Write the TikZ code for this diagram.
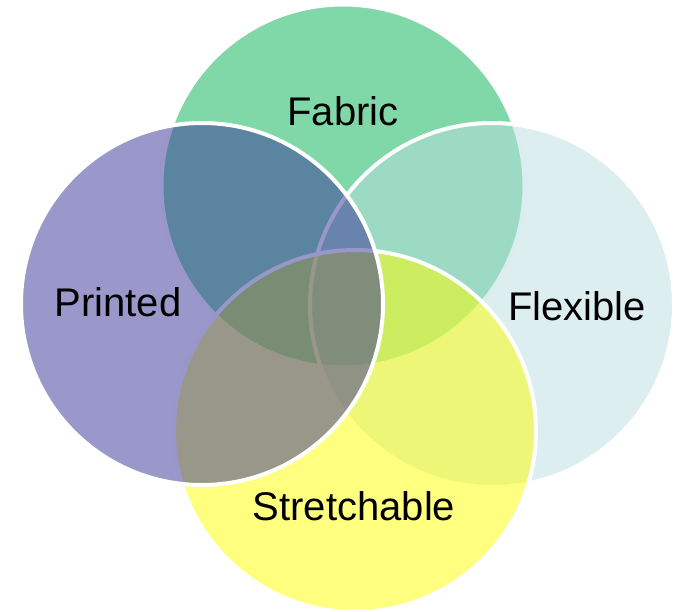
\documentclass[tikz,border=0pt]{standalone}
\usepackage{fontspec}
\setmainfont{Liberation Sans}
\definecolor{fabricC}{RGB}{2,178,82}
\definecolor{flexC}{RGB}{185,221,225}
\definecolor{stretchC}{RGB}{255,255,0}
\definecolor{printC}{RGB}{53,48,150}
\begin{document}
\begin{tikzpicture}[x=1pt,y=-1pt,
  setdisc/.style={fill=#1, fill opacity=0.5, draw=white, draw opacity=1, line width=4pt},
  setlabel/.style={anchor=base, font=\fontsize{40}{48}\selectfont, text=black}]
\useasboundingbox (0,0) rectangle (677,611);
% the four sets, back to front
\path[setdisc=fabricC]  (343,186) circle[radius=181.5pt];
\path[setdisc=flexC]    (492,305) circle[radius=182pt];
\path[setdisc=stretchC] (355,431) circle[radius=181pt];
\path[setdisc=printC]   (202,304) circle[radius=181pt];
% labels
\node[setlabel] (fabric)  at (343,125) {Fabric};
\node[setlabel] (printed) at (118,316) {Printed};
\node[setlabel] (flex)    at (577,320) {Flexible};
\node[setlabel] (stretch) at (354,520) {Stretchable};
\end{tikzpicture}
\end{document}
